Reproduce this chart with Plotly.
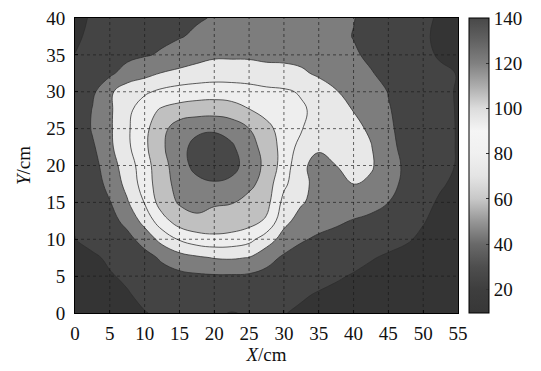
import plotly.graph_objects as go

# grid coordinates (cm)
x_cm = [i * 2.5 for i in range(23)]   # 0 .. 55
y_cm = [j * 2.5 for j in range(17)]   # 0 .. 40

# values, one row per y (bottom to top)
z_rows = [
    [9, 11, 14, 17, 19.5, 22, 23.5, 23, 21.5, 19.5, 21, 22, 20.5, 18, 16, 14, 13, 12, 11, 10, 9.5, 9, 9],
    [11, 13, 15.5, 19, 23, 26, 28, 29, 29, 28, 28, 26, 24, 21.5, 19, 17, 15, 13, 12, 11, 10, 9, 9],
    [13, 15, 19, 22, 27, 32, 35, 37, 38, 38, 37, 34, 30, 27, 24, 21.5, 19, 16, 14, 12, 11, 10, 9],
    [15, 18, 22, 27, 33, 43, 52, 57, 61, 62, 59.5, 47, 37, 32, 29, 27, 24, 21, 18, 15, 13, 11, 10],
    [19.8, 24, 28, 34, 48, 67, 82, 91, 94, 92, 86, 70, 52, 42, 37, 34, 31, 28, 25, 22, 17, 13, 11],
    [21, 26, 33, 46, 67, 92, 110, 115, 115, 113, 108, 97, 66, 52, 47, 43, 39, 36, 32, 27, 21, 15, 12],
    [21, 28, 39, 58, 81, 110, 122, 127, 121.5, 121, 112, 107, 74, 62, 53, 50, 50, 46, 40, 30, 24, 18, 15],
    [21, 30, 46, 66, 89, 113, 126, 134, 138, 135, 126, 110, 84, 66, 53, 56, 60.5, 57, 47, 35, 27, 21.5, 17],
    [21, 32, 52, 69, 92, 113, 131, 147, 152, 147, 131, 115, 91, 64, 53, 60, 66, 62, 50, 36, 29, 24, 19],
    [21, 37, 56, 76, 96, 117, 134, 146, 151, 143, 127, 113, 92, 73, 63, 66, 67, 61, 44, 36, 30, 25, 19],
    [21, 42, 57, 77, 95, 114, 131, 136, 137, 132, 120, 106, 91, 80.5, 77, 72, 65, 57, 42, 36, 30, 25, 19],
    [21, 41, 57, 75, 91, 103, 108, 111, 112, 109, 101, 93, 88, 83, 74, 66, 59.5, 51, 41, 35, 29, 24, 19],
    [21, 36, 57, 70, 77, 84, 88, 90, 91, 90, 88, 85, 83, 78, 70, 61, 54, 47, 39.5, 33, 27, 23, 19],
    [21, 28, 36, 49, 54, 61, 65, 68, 70, 70, 69, 66, 65, 63, 57, 52, 47, 41, 35.5, 30, 26, 22.5, 19.5],
    [20.3, 26, 30, 34, 38.5, 42, 47, 53, 57, 57, 57, 56, 56, 54, 51, 47, 42, 37, 32, 27.5, 23, 18.5, 16],
    [17, 24, 28, 31, 34, 36.5, 39, 42.5, 46, 49, 51, 52, 52, 51, 48, 44, 39.5, 35, 31, 27, 22, 17, 15],
    [15, 22, 26, 29, 32, 34, 36, 38.5, 41, 44, 46, 47, 47, 46, 44, 42, 40.5, 35, 31, 27, 23, 18, 15],
]

x_ticks = [0, 5, 10, 15, 20, 25, 30, 35, 40, 45, 50, 55]
y_ticks = [0, 5, 10, 15, 20, 25, 30, 35, 40]
cbar_ticks = [20, 40, 60, 80, 100, 120, 140]

# contour levels
lev_start, lev_end, lev_step = 20, 140, 20
# gray level of each filled band, lowest band first
band_gray = [52, 68, 125, 232, 238, 192, 128, 72]

# continuous colour bar: value -> gray
cb_vals = [9.5, 20, 30, 40, 50, 60, 70, 80, 90, 100, 110, 120, 130, 140]
cb_gray = [55, 62, 78, 105, 150, 200, 228, 240, 245, 220, 172, 128, 98, 72]

def g(v):
    return f"rgb({v},{v},{v})"

nb = len(band_gray)
band_scale = [[k / (nb - 1), g(v)] for k, v in enumerate(band_gray)]
cmin, cmax = cb_vals[0], cb_vals[-1]
cb_scale = [[(v - cmin) / (cmax - cmin), g(c)] for v, c in zip(cb_vals, cb_gray)]

serif = "Liberation Serif"
FS = 19

fig = go.Figure()
fig.add_trace(go.Contour(
    x=x_cm, y=y_cm, z=z_rows,
    contours=dict(start=lev_start, end=lev_end, size=lev_step, coloring="fill"),
    colorscale=band_scale,
    showscale=False,
    line=dict(color="rgba(45,45,45,0.85)", width=0.9, smoothing=1.2),
    hoverinfo="skip",
))
fig.add_trace(go.Scatter(
    x=[None], y=[None], mode="markers", showlegend=False,
    marker=dict(color=[cmin], cmin=cmin, cmax=cmax + 0.01, colorscale=cb_scale, showscale=True,
                colorbar=dict(
                    x=1.029, xanchor="left", xref="paper", y=0.5, yanchor="middle",
                    len=1.0, lenmode="fraction", thickness=20, thicknessmode="pixels",
                    outlinewidth=1, outlinecolor="black",
                    tickvals=cbar_ticks, ticks="inside", ticklen=3, tickcolor="#333",
                    tickfont=dict(family=serif, size=FS, color="#111"),
                    ticklabeloverflow="allow",
                    ypad=0, xpad=0,
                )),
))

# dotted grid drawn above the filled contours
for xv in x_ticks[1:-1]:
    fig.add_shape(type="line", xref="x", yref="y", x0=xv, x1=xv, y0=y_ticks[0], y1=y_ticks[-1],
                  line=dict(color="rgba(25,25,25,0.65)", width=1, dash="dot"), layer="above")
for yv in y_ticks[1:-1]:
    fig.add_shape(type="line", xref="x", yref="y", x0=x_ticks[0], x1=x_ticks[-1], y0=yv, y1=yv,
                  line=dict(color="rgba(25,25,25,0.65)", width=1, dash="dot"), layer="above")

axis_common = dict(showline=True, linecolor="black", linewidth=1, mirror=True,
                   ticks="inside", ticklen=3, tickcolor="black", showgrid=False, zeroline=False,
                   tickfont=dict(family=serif, size=FS, color="#111"), layer="above traces",
                   automargin=False, ticklabeloverflow="allow")

fig.update_xaxes(range=[x_ticks[0], x_ticks[-1]], tickvals=x_ticks, ticklabelstandoff=3,
                 title=dict(text="<i>X</i>/cm", font=dict(family=serif, size=FS, color="#111"), standoff=2),
                 **axis_common)
fig.update_yaxes(range=[y_ticks[0], y_ticks[-1]], tickvals=y_ticks, ticklabelstandoff=5,
                 title=dict(text="<i>Y</i>/cm", font=dict(family=serif, size=FS, color="#111"), standoff=10),
                 **axis_common)

# the page adds an 8px body margin, so the figure is sized/placed to compensate
fig.update_layout(
    width=533, height=363,
    margin=dict(l=67, r=83, t=10, b=58, autoexpand=False),
    paper_bgcolor="white", plot_bgcolor="white",
    showlegend=False,
)

fig.write_html("out.html")
